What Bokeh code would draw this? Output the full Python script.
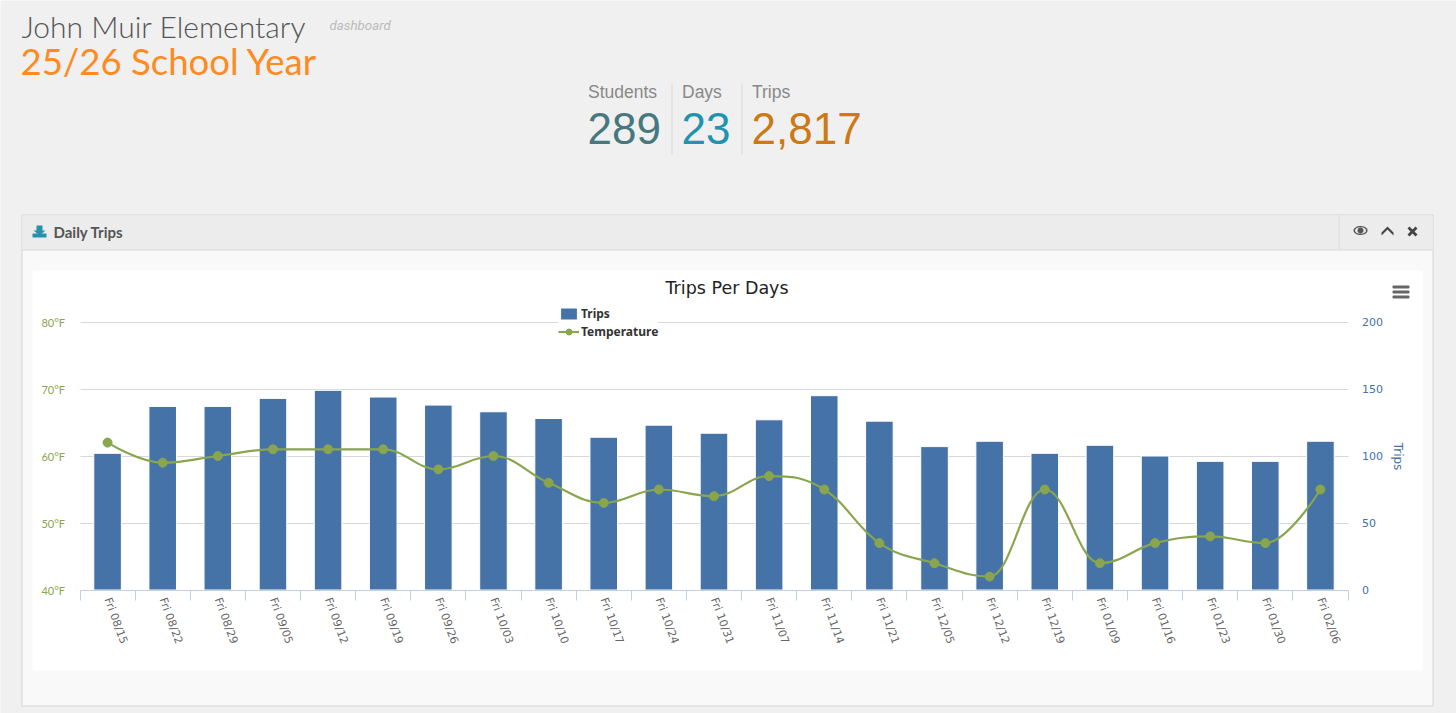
import math

import numpy as np
from bokeh.embed import file_html
from bokeh.models import (BoxAnnotation, FixedTicker, Grid, Label, Legend, LegendItem,
                          LinearAxis, PolyAnnotation, Range1d)
from bokeh.plotting import figure
from bokeh.resources import INLINE

dates = ["Fri 08/15", "Fri 08/22", "Fri 08/29", "Fri 09/05", "Fri 09/12", "Fri 09/19",
         "Fri 09/26", "Fri 10/03", "Fri 10/10", "Fri 10/17", "Fri 10/24", "Fri 10/31",
         "Fri 11/07", "Fri 11/14", "Fri 11/21", "Fri 12/05", "Fri 12/12", "Fri 12/19",
         "Fri 01/09", "Fri 01/16", "Fri 01/23", "Fri 01/30", "Fri 02/06"]
trips = [102, 137, 137, 143, 149, 144, 138, 133, 128, 114, 123, 117,
         127, 145, 126, 107, 111, 102, 108, 100, 96, 96, 111]
temps = [62, 59, 60, 61, 61, 61, 58, 60, 56, 53, 55, 54,
         57, 55, 47, 44, 42, 55, 44, 47, 48, 47, 55]
temp_ticks = [40, 50, 60, 70, 80]
trip_ticks = [0, 50, 100, 150, 200]

GREEN = "#89A54E"
BLUE = "#4572A7"
PAGE = "#F0F0F0"

WIDTH, HEIGHT = 1456, 713
# plot area inside the window, the frame itself fills the whole figure so that
# the dashboard furniture around the chart is not clipped
LEFT, RIGHT, TOP, BOTTOM = 79.5, 1347.5, 321.5, 589.5


def spline_controls(xs, ys):
    # same smoothing the original chart library uses, control points only
    n = len(xs)
    left_y, right_y = list(ys), list(ys)
    left_x, right_x = list(xs), list(xs)
    for i in range(1, n - 1):
        lx = (1.5 * xs[i] + xs[i - 1]) / 2.5
        ly = (1.5 * ys[i] + ys[i - 1]) / 2.5
        rx = (1.5 * xs[i] + xs[i + 1]) / 2.5
        ry = (1.5 * ys[i] + ys[i + 1]) / 2.5
        c = (ry - ly) * (rx - xs[i]) / (rx - lx) + ys[i] - ry
        ly += c
        ry += c
        if ly > ys[i - 1] and ly > ys[i]:
            ly = max(ys[i - 1], ys[i])
            ry = 2 * ys[i] - ly
        elif ly < ys[i - 1] and ly < ys[i]:
            ly = min(ys[i - 1], ys[i])
            ry = 2 * ys[i] - ly
        if ry > ys[i + 1] and ry > ys[i]:
            ry = max(ys[i + 1], ys[i])
            ly = 2 * ys[i] - ry
        elif ry < ys[i + 1] and ry < ys[i]:
            ry = min(ys[i + 1], ys[i])
            ly = 2 * ys[i] - ry
        left_x[i], left_y[i], right_x[i], right_y[i] = lx, ly, rx, ry
    return left_x, left_y, right_x, right_y


def y_range_for(lo, hi):
    # stretch a value range so that lo/hi land on BOTTOM/TOP of the plot area
    per_px = (hi - lo) / (BOTTOM - TOP)
    return Range1d(lo - (HEIGHT - BOTTOM) * per_px, hi + TOP * per_px)


x_lo, x_hi = -0.5, len(dates) - 0.5
x_per_px = (x_hi - x_lo) / (RIGHT - LEFT)

p = figure(width=WIDTH, height=HEIGHT, output_backend="svg", toolbar_location=None,
           x_range=Range1d(x_lo - LEFT * x_per_px, x_hi + (WIDTH - RIGHT) * x_per_px),
           y_range=y_range_for(40, 80), min_border=0,
           border_fill_color=PAGE, background_fill_color=PAGE,
           outline_line_color=None, x_axis_location=None, y_axis_location=None)
p.extra_y_ranges = {"trips": y_range_for(0, 200)}
p.xgrid.visible = False
p.ygrid.visible = False


def box(l, t, r, b, color, radius=0, level="underlay"):
    p.add_layout(BoxAnnotation(left=l, right=r, top=HEIGHT - t, bottom=HEIGHT - b,
                               left_units="screen", right_units="screen",
                               top_units="screen", bottom_units="screen",
                               fill_color=color, fill_alpha=1, line_color=None,
                               border_radius=radius, level=level))


def text(x, y, s, size, color, font="Liberation Sans", style="normal", angle=0, align="left"):
    p.add_layout(Label(x=x, y=HEIGHT - y, x_units="screen", y_units="screen", text=s,
                       text_font=font, text_font_size=f"{size}px", text_color=color,
                       text_font_style=style, text_baseline="middle", angle=angle,
                       text_align=align))


def poly(xs, ys, color):
    p.add_layout(PolyAnnotation(xs=list(xs), ys=[HEIGHT - v for v in ys],
                                xs_units="screen", ys_units="screen", fill_color=color,
                                fill_alpha=1, line_color=None, level="annotation"))


# page furniture
box(21, 214, 1433, 706, "#D4D4D4", level="image")
box(22, 215, 1432, 705, "#F9F9F9", level="image")
box(22, 215, 1432, 249, "#ECECEC", level="image")
box(22, 249, 1432, 250, "#D4D4D4", level="image")
box(1338, 215, 1339, 249, "#DCDCDC", level="image")
box(32, 270, 1422, 670, "#FFFFFF", level="image")
box(671, 83, 672, 154, "#D8D8D8", level="image")
box(741, 83, 742, 154, "#D8D8D8", level="image")

text(21, 25, "John Muir Elementary", 30, "#555555", font="Lato Light")
text(20, 60, "25/26 School Year", 36.5, "#FF8A1E", font="Lato")
text(329, 25, "dashboard", 13.3, "#BBBBBB", font="Roboto", style="italic")
text(587.5, 91, "Students", 17.5, "#888888")
text(681.5, 91, "Days", 17.5, "#888888")
text(751.5, 91, "Trips", 17.5, "#888888")
text(587, 128, "289", 44, "#48787F")
text(681, 128, "23", 44, "#2193AE")
text(751, 128, "2,817", 44, "#CC7A14")
text(53, 231, "Daily Trips", 15, "#555555", font="Lato", style="bold")
text(665, 287, "Trips Per Days", 17.5, "#222222", font="DejaVu Sans")
text(1397, 456, "Trips", 12, BLUE, font="DejaVu Sans", angle=-math.pi / 2, align="center")

# header icons
poly([36, 42, 42, 45, 39, 33, 36], [225, 225, 230, 230, 235, 230, 230], "#2193AE")
box(32, 233, 46, 237, "#2193AE", level="annotation")
t = np.linspace(0, 2 * math.pi, 30)
poly(1360 + 7 * np.cos(t), 230 + 4.5 * np.sin(t), "#555555")
poly(1360 + 5.5 * np.cos(t), 230 + 3.3 * np.sin(t), "#ECECEC")
poly(1360 + 3 * np.cos(t), 230 + 3 * np.sin(t), "#555555")
poly([1381, 1387, 1393, 1393, 1387, 1381], [232, 226, 232, 235, 229, 235], "#444444")
poly([1407, 1409, 1412, 1415, 1417, 1414, 1417, 1415, 1412, 1409, 1407, 1410],
     [228, 226, 229, 226, 228, 231, 234, 236, 233, 236, 234, 231], "#444444")
box(1392, 285, 1409, 288, "#666666", radius=1, level="annotation")
box(1392, 290, 1409, 293, "#666666", radius=1, level="annotation")
box(1392, 295, 1409, 298, "#666666", radius=1, level="annotation")

# axes
x = list(range(len(dates)))
x_axis = LinearAxis(ticker=FixedTicker(ticks=x, minor_ticks=[i - 0.5 for i in range(len(dates) + 1)]),
                    fixed_location=40, bounds=(x_lo, x_hi),
                    major_label_overrides={i: d for i, d in enumerate(dates)},
                    major_label_orientation=-math.radians(70), major_label_standoff=-2,
                    major_tick_line_color=None, major_tick_out=0, major_tick_in=0,
                    minor_tick_line_color="#C0D0E0", minor_tick_out=10, minor_tick_in=0,
                    axis_line_color="#C0D0E0", major_label_text_color="#666666",
                    major_label_text_font="DejaVu Sans", major_label_text_font_size="11px")
p.add_layout(x_axis, "below")

temp_axis = LinearAxis(ticker=FixedTicker(ticks=temp_ticks), fixed_location=x_lo,
                       major_label_overrides={v: f"{v}°F" for v in temp_ticks},
                       axis_line_color=None, major_tick_line_color=None, minor_tick_line_color=None,
                       major_label_standoff=9, major_label_text_color=GREEN,
                       major_label_text_font="Lato", major_label_text_font_size="11px")
p.add_layout(temp_axis, "left")

trip_axis = LinearAxis(y_range_name="trips", ticker=FixedTicker(ticks=trip_ticks), fixed_location=x_hi,
                       axis_line_color=None, major_tick_line_color=None,
                       minor_tick_line_color=None, major_label_standoff=8,
                       major_label_text_color=BLUE, major_label_text_font="DejaVu Sans",
                       major_label_text_font_size="11px")
p.add_layout(trip_axis, "right")

p.add_layout(Grid(dimension=1, ticker=FixedTicker(ticks=temp_ticks), bounds=(40, 80),
                  cross_bounds=(x_lo, x_hi), grid_line_color="#D8D8D8", grid_line_width=1))

# data
bars = p.vbar(x=x, top=trips, bottom=0, width=0.5, y_range_name="trips",
              fill_color=BLUE, line_color="#FFFFFF", line_width=1)

lx, ly, rx, ry = spline_controls(x, temps)
curve = p.bezier(x0=x[:-1], y0=temps[:-1], x1=x[1:], y1=temps[1:],
                 cx0=rx[:-1], cy0=ry[:-1], cx1=lx[1:], cy1=ly[1:],
                 line_color=GREEN, line_width=2.2)
dots = p.scatter(x=x, y=temps, size=9, marker="circle", fill_color=GREEN, line_color=GREEN)

legend = Legend(items=[LegendItem(label="Trips", renderers=[bars]),
                       LegendItem(label="Temperature", renderers=[curve, dots])],
                location=(558, HEIGHT - 340), orientation="vertical",
                border_line_color=None, background_fill_color="#FFFFFF", background_fill_alpha=1,
                label_text_font="Noto Sans", label_text_font_size="12px",
                label_text_font_style="bold", label_text_color="#333333",
                glyph_width=21, glyph_height=15, label_standoff=2, spacing=1,
                padding=7, margin=0)
p.add_layout(legend)

open("out.html", "w").write(file_html(p, INLINE))
